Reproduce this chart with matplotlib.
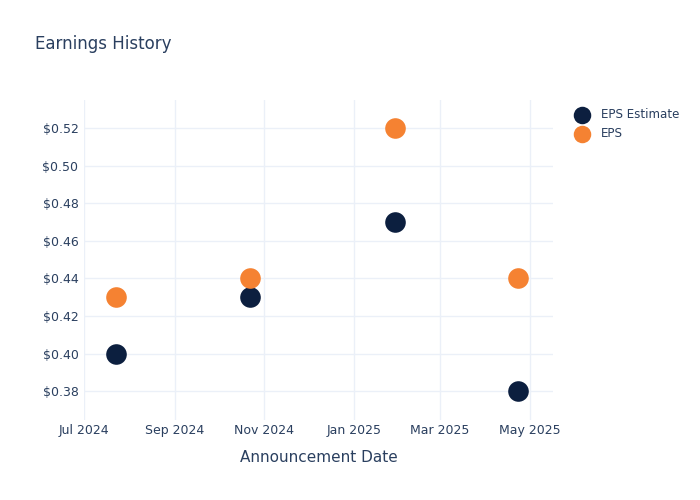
import matplotlib.pyplot as plt
import matplotlib.dates as mdates
import numpy as np
from matplotlib.ticker import FuncFormatter

# announcement dates and eps values
dates = np.array(["2024-07-23", "2024-10-22", "2025-01-29", "2025-04-23"], dtype="datetime64[D]")
eps_estimate = [0.40, 0.43, 0.47, 0.38]
eps_actual = [0.43, 0.44, 0.52, 0.44]

navy = "#0c1f3f"
orange = "#f58232"
text_col = "#2a3f5f"
grid_col = "#ebf0f8"

fig = plt.figure(figsize=(7, 5), dpi=100)
ax = fig.add_axes([84 / 700, 80 / 500, (553 - 84) / 700, 320 / 500])

ax.scatter(dates, eps_estimate, s=220, color=navy, label="EPS Estimate", zorder=3, linewidths=0)
ax.scatter(dates, eps_actual, s=220, color=orange, label="EPS", zorder=3, linewidths=0)

ax.set_xlim(np.datetime64("2024-07-01"), np.datetime64("2025-05-17"))
ax.set_ylim(0.3646, 0.535)
ax.set_yticks([0.38, 0.40, 0.42, 0.44, 0.46, 0.48, 0.50, 0.52])
ax.yaxis.set_major_formatter(FuncFormatter(lambda v, p: "${:.2f}".format(v)))

ax.xaxis.set_major_locator(mdates.MonthLocator(bymonth=[1, 3, 5, 7, 9, 11]))
ax.xaxis.set_major_formatter(mdates.DateFormatter("%b %Y"))

for s in ax.spines.values():
    s.set_visible(False)
ax.grid(True, color=grid_col, linewidth=1)
ax.set_axisbelow(True)
ax.tick_params(length=0, labelsize=9, colors=text_col)
ax.tick_params(axis="x", pad=3)
ax.tick_params(axis="y", pad=4)

ax.set_xlabel("Announcement Date", fontsize=11, color=text_col, labelpad=9)
fig.text(35 / 700, 1 - 44 / 500, "Earnings History", fontsize=12, color=text_col, va="center")

leg = ax.legend(loc="upper left", bbox_to_anchor=(1.018, 1.0), frameon=False, fontsize=8.6,
                labelcolor=text_col, handletextpad=0.6, borderaxespad=0.3, markerscale=0.85,
                labelspacing=0.45)

fig.savefig("out.png", dpi=100)
